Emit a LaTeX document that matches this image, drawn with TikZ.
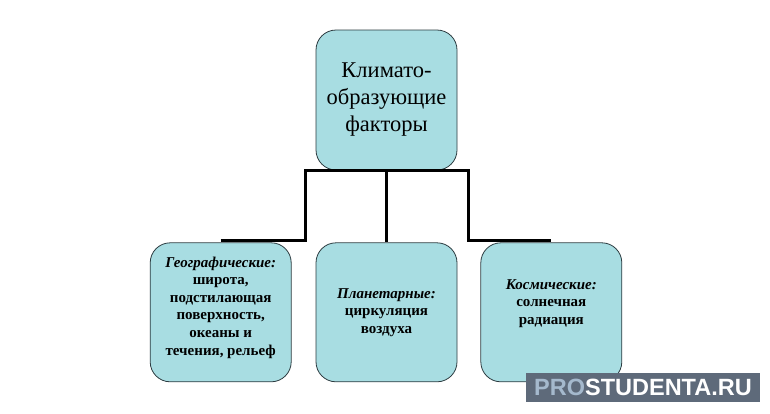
\documentclass[tikz,border=0pt]{standalone}
\usepackage{fontspec}
\setmainfont{Liberation Serif}
\newfontfamily\stampfont{Liberation Sans}
\usetikzlibrary{positioning}
\definecolor{boxfill}{RGB}{168,221,226}
\definecolor{boxline}{RGB}{45,60,65}
\definecolor{stampbg}{RGB}{94,106,122}
\definecolor{stampro}{RGB}{165,185,205}

\begin{document}
\begin{tikzpicture}[
  x=1pt, y=-1pt,
  factor/.style ={draw=boxline,line width=0.8pt,fill=boxfill,rounded corners=20pt,
                  align=center,minimum width=141pt,minimum height=139pt,inner sep=2pt},
  mainbox/.style={factor,font=\fontsize{22.5}{27}\selectfont},
  group/.style  ={factor,font=\bfseries\fontsize{15}{17.6}\selectfont},
  link/.style   ={line width=3pt},
  stamp/.style  ={fill=stampbg,text=white,inner sep=0pt,
                  font=\stampfont\bfseries\fontsize{23.5}{26}\selectfont,
                  minimum width=234pt,minimum height=29pt},
  node distance =72pt and 24pt]

\useasboundingbox[fill=white] (0,0) rectangle (770,413);

% --- top box ---
\node[mainbox,minimum height=140pt] (clim) at (386.5,100)
  {Климато-\\образующие\\факторы};

% --- three groups of factors ---
\node[group,below=72pt of clim] (plan)
  {\textit{Планетарные:}\\циркуляция\\воздуха};
\node[group,left=24pt of plan,text depth=13pt] (geo)
  {\textit{Географические:}\\широта,\\подстилающая\\поверхность,\\океаны и\\течения, рельеф};
\node[group,right=23pt of plan,text depth=21pt] (cosm)
  {\textit{Космические:}\\солнечная\\радиация};

% --- connectors ---
\coordinate (jl) at (305,170);
\coordinate (jr) at (468,170);
\draw[link] ([yshift=2pt]geo.north) -| (jl) -- (jr) |- ([yshift=2pt]cosm.north);
\draw[link] (clim.south) -- (plan.north);

% --- watermark ---
\node[stamp] (wm) at (643,387.5) {{\color{stampro}PRO}STUDENTA.RU};

\end{tikzpicture}
\end{document}
